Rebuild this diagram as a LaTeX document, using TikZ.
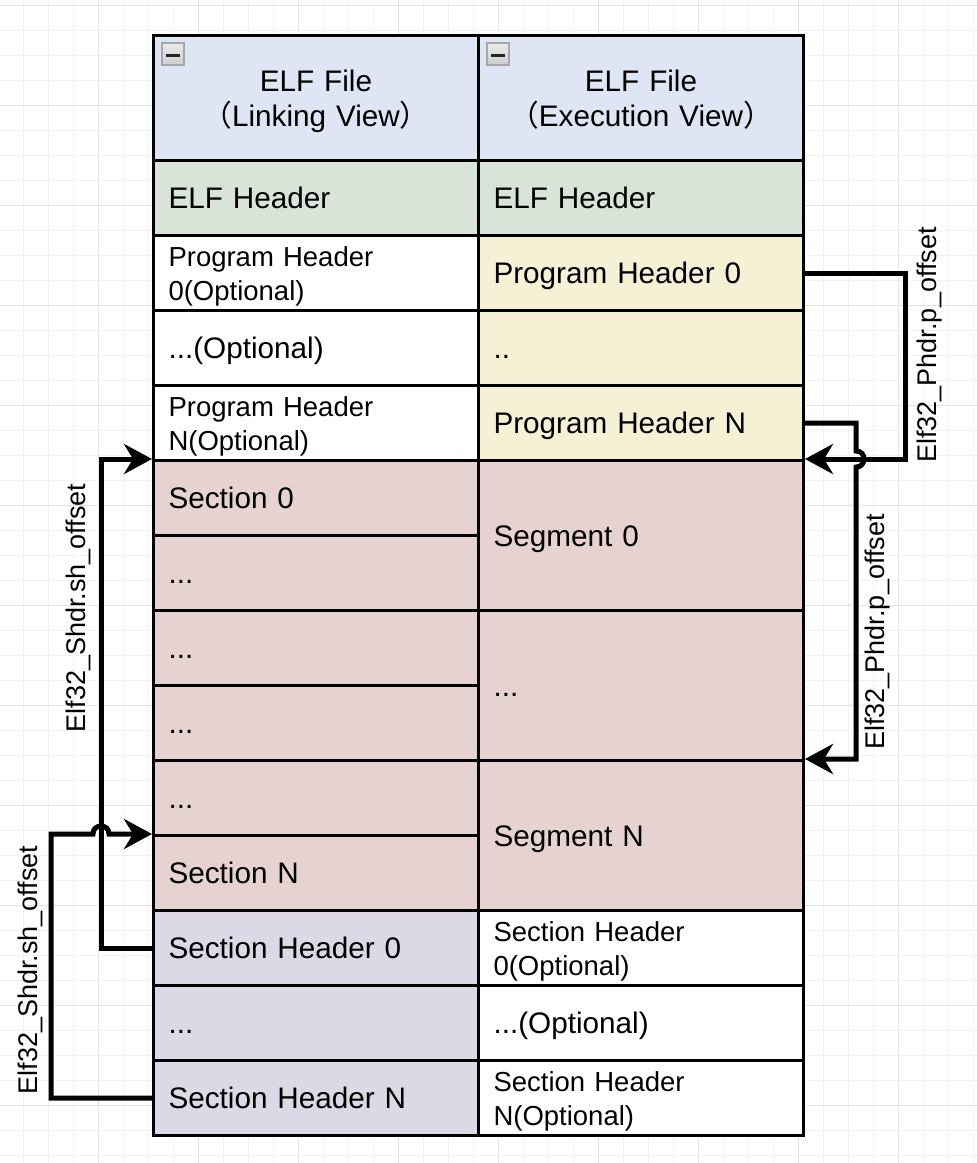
\documentclass[tikz,border=0pt]{standalone}
\usepackage{fontspec}
\setmainfont{Liberation Sans}
\newfontfamily\cjk{Noto Sans CJK SC}
\usepackage{xcolor}
\usetikzlibrary{arrows.meta,calc}

\definecolor{hdrblue}{RGB}{222,230,245}
\definecolor{elfgreen}{RGB}{216,228,216}
\definecolor{phyellow}{RGB}{246,240,213}
\definecolor{secred}{RGB}{230,210,208}
\definecolor{shpurple}{RGB}{220,216,230}

\newcommand{\bigtxt}{\fontsize{14.85pt}{17.5pt}\selectfont}
\newcommand{\smalltxt}{\fontsize{13.75pt}{17pt}\selectfont}
\newcommand{\offtxt}{\fontsize{13.5pt}{16pt}\selectfont}
\newcommand{\topstrut}{\rule{0pt}{14.6pt}}
\newcommand{\botstrut}{\rule[-4pt]{0pt}{4pt}}

\begin{document}
\begin{tikzpicture}[x=0.5pt,y=-0.5pt,
    cell/.style={draw,line width=1.5pt,anchor=north west,minimum width=162.5pt,
        minimum height=37.5pt,inner xsep=7.5pt,inner ysep=0pt,text width=147.5pt,
        align=left,font=\bigtxt,execute at begin node=\topstrut,
        execute at end node=\botstrut},
    twoline/.style={cell,font=\smalltxt},
    hdrcell/.style={cell,fill=hdrblue,minimum height=62.5pt,align=center},
    foldbox/.style={draw=gray!70,line width=1pt,top color=gray!15,bottom color=gray!40,
        minimum size=11pt,inner sep=0pt},
    link/.style={line width=2.5pt,-{Stealth[length=14pt,width=15pt,inset=4.5pt]}},
    offlabel/.style={rotate=90,font=\offtxt,inner sep=0pt},
    gridminor/.style={line width=0.5pt,black!5},
    gridmajor/.style={line width=0.5pt,black!11}]

    \useasboundingbox (0,0) rectangle (977,1163);
    \fill[white] (0,0) rectangle (977,1163);

    % background grid
    \foreach \gx in {23,48,...,973} \draw[gridminor] (\gx,0) -- (\gx,1163);
    \foreach \gy in {5,30,...,1155} \draw[gridminor] (0,\gy) -- (977,\gy);
    \foreach \gx in {98,198,...,898} \draw[gridmajor] (\gx,0) -- (\gx,1163);
    \foreach \gy in {5,105,...,1105} \draw[gridmajor] (0,\gy) -- (977,\gy);

    % Linking view (left column)
    \node[hdrcell] (lhdr) at (152,34) {ELF File\\{\cjk （}Linking View{\cjk ）}};
    \node[cell,fill=elfgreen] (lelf) at (152,159) {ELF Header};
    \node[twoline,fill=white] (lph0) at (152,234) {Program Header\\0(Optional)};
    \node[cell,fill=white] (lphx) at (152,309) {...(Optional)};
    \node[twoline,fill=white] (lphn) at (152,384) {Program Header\\N(Optional)};
    \node[cell,fill=secred] (lsec0) at (152,459) {Section 0};
    \node[cell,fill=secred] (lsec1) at (152,534) {...};
    \node[cell,fill=secred] (lsec2) at (152,609) {...};
    \node[cell,fill=secred] (lsec3) at (152,684) {...};
    \node[cell,fill=secred] (lsec4) at (152,759) {...};
    \node[cell,fill=secred] (lsecn) at (152,834) {Section N};
    \node[cell,fill=shpurple] (lsh0) at (152,909) {Section Header 0};
    \node[cell,fill=shpurple] (lshx) at (152,984) {...};
    \node[cell,fill=shpurple] (lshn) at (152,1059) {Section Header N};

    % Execution view (right column)
    \node[hdrcell] (rhdr) at (477,34) {ELF File\\{\cjk （}Execution View{\cjk ）}};
    \node[cell,fill=elfgreen] (relf) at (477,159) {ELF Header};
    \node[cell,fill=phyellow] (rph0) at (477,234) {Program Header 0};
    \node[cell,fill=phyellow] (rphx) at (477,309) {..};
    \node[cell,fill=phyellow] (rphn) at (477,384) {Program Header N};
    \node[cell,fill=secred,minimum height=75pt] (rseg0) at (477,459) {Segment 0};
    \node[cell,fill=secred,minimum height=75pt] (rseg1) at (477,609) {...};
    \node[cell,fill=secred,minimum height=75pt] (rsegn) at (477,759) {Segment N};
    \node[twoline,fill=white] (rsh0) at (477,909) {Section Header\\0(Optional)};
    \node[cell,fill=white] (rshx) at (477,984) {...(Optional)};
    \node[twoline,fill=white] (rshn) at (477,1059) {Section Header\\N(Optional)};

    % collapse icons
    \node[foldbox] (lfold) at (173,54) {};
    \node[foldbox] (rfold) at (498,54) {};
    \draw[line width=1.5pt,black!85] ($(lfold.center)+(-7,1.5)$) -- ($(lfold.center)+(7,1.5)$);
    \draw[line width=1.5pt,black!85] ($(rfold.center)+(-7,1.5)$) -- ($(rfold.center)+(7,1.5)$);

    % program header offsets
    \draw[link] (rph0.east) -- ++(100,0) |- (rseg0.north east);
    \draw[link] (rphn.east) -- ++(51,0) coordinate (pjump)
        -- ($(pjump |- rseg0.north east)+(0,-8)$)
        .. controls +(10.7,0) and +(10.7,0) .. ($(pjump |- rseg0.north east)+(0,8)$)
        |- (rsegn.north east);
    \node[offlabel] (phlab0) at (930,345) {Elf32\_Phdr.p\_offset};
    \node[offlabel] (phlab1) at (878,632) {Elf32\_Phdr.p\_offset};

    % section header offsets
    \draw[link] (lsh0.west) -- ++(-51,0) |- (lsec0.north west);
    \draw[link] (lshn.west) -- ++(-101,0) |- ($(lsecn.north west)+(-59,0)$)
        .. controls +(0,-10.7) and +(0,-10.7) .. ($(lsecn.north west)+(-43,0)$)
        -- (lsecn.north west);
    \node[offlabel] (shlab0) at (78,608) {Elf32\_Shdr.sh\_offset};
    \node[offlabel] (shlab1) at (30,970) {Elf32\_Shdr.sh\_offset};
\end{tikzpicture}
\end{document}
